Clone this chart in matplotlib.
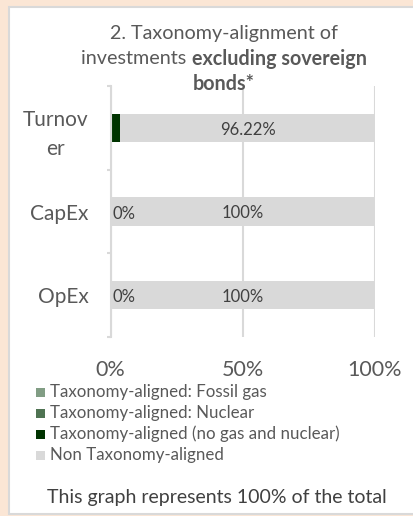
import matplotlib
matplotlib.use("Agg")
import matplotlib.pyplot as plt
from matplotlib.patches import Rectangle

# ---- data ----
categories = ["Turnov\ner", "CapEx", "OpEx"]
fossil_gas = [0.0, 0.0, 0.0]
nuclear = [0.0, 0.0, 0.0]
aligned_other = [3.78, 0.0, 0.0]
non_aligned = [96.22, 100.0, 100.0]
aligned_labels = ["", "0%", "0%"]
non_aligned_labels = ["96.22%", "100%", "100%"]
x_ticks = [0, 50, 100]
x_tick_labels = ["0%", "50%", "100%"]
legend_labels = ["Taxonomy-aligned: Fossil gas", "Taxonomy-aligned: Nuclear",
                 "Taxonomy-aligned (no gas and nuclear)", "Non Taxonomy-aligned"]
colors = ["#819d84", "#4f7352", "#003300", "#d9d9d9"]

W, H = 414, 516
plt.rcParams['font.family'] = ['Lato', 'DejaVu Sans']
fig = plt.figure(figsize=(W / 100, H / 100), dpi=100, facecolor="#fbe6d5")

def fx(px):
    return px / W

def fy(py):
    return 1 - py / H

# white panel
fig.patches.append(Rectangle((fx(9), fy(514)), fx(420) - fx(9), fy(7) - fy(514),
                             transform=fig.transFigure, facecolor="white",
                             edgecolor="#d9d9d9", linewidth=1.5, zorder=-10))

ax = fig.add_axes([fx(110.5), fy(337), fx(375) - fx(110.5), fy(86) - fy(337)])
ax.set_facecolor("none")
ax.set_zorder(1)
ypos = list(range(len(categories)))
bh = 0.34
left = [0.0] * len(categories)
series = [fossil_gas, nuclear, aligned_other, non_aligned]
for vals, c in zip(series, colors):
    ax.barh(ypos, vals, left=left, height=bh, color=c, zorder=2)
    left = [l + v for l, v in zip(left, vals)]

txtc = "#404040"
for i in ypos:
    a0 = fossil_gas[i] + nuclear[i]
    if aligned_labels[i]:
        ax.annotate(aligned_labels[i], (a0, i), xytext=(1.5, -1.5), textcoords="offset points",
                    ha="left", va="center", fontsize=12, color=txtc, zorder=3)
    start = a0 + aligned_other[i]
    ax.text(start + non_aligned[i] / 2, i + 0.02, non_aligned_labels[i], ha="center",
            va="center", fontsize=12, color=txtc, zorder=3)

ax.set_xlim(0, 100)
ax.set_ylim(2.5, -0.5)
ax.set_xticks(x_ticks)
ax.set_xticklabels(x_tick_labels, fontsize=15.5, color="#595959")
ax.tick_params(axis="x", length=0, pad=16.5)
ax.set_yticks(ypos)
ax.set_yticklabels(categories, fontsize=15, color="#595959", ha="right",
                   multialignment="center", linespacing=1.55)
ax.tick_params(axis="y", which="major", length=0, pad=16)
ax.set_yticks([-0.5, 0.5, 1.5, 2.5], minor=True)
ax.tick_params(axis="y", which="minor", length=3, width=1.5, color="#d9d9d9")
ax.grid(axis="x", color="#d9d9d9", linewidth=1.5, zorder=1)
ax.set_axisbelow(True)
for s in ["top", "right", "bottom"]:
    ax.spines[s].set_visible(False)
ax.spines["left"].set_color("#d9d9d9")
ax.spines["left"].set_linewidth(1.5)

# title with mixed weights
fig.canvas.draw()
renderer = fig.canvas.get_renderer()
title_lines = [
    [("2. Taxonomy-alignment of", "normal")],
    [("investments ", "normal"), ("excluding sovereign", "bold")],
    [("bonds*", "bold")],
]
title_y = [33, 59, 84]
tcx = 224
for segs, py in zip(title_lines, title_y):
    texts = []
    widths = []
    for s, w in segs:
        t = fig.text(0, fy(py), s, fontsize=14.2, fontweight=w, color="#595959",
                     va="center", ha="left")
        bb = t.get_window_extent(renderer)
        texts.append(t)
        widths.append(bb.width)
    total = sum(widths)
    x = tcx - total / 2
    for t, wd in zip(texts, widths):
        t.set_x(fx(x))
        x += wd

# legend
leg_y = [392, 413, 434, 455]
for lab, c, py in zip(legend_labels, colors, leg_y):
    fig.patches.append(Rectangle((fx(36), fy(py + 4.5)), fx(9), fy(0) - fy(9),
                                 transform=fig.transFigure, facecolor=c, edgecolor="none"))
    fig.text(fx(50), fy(py), lab, fontsize=12.2, color="#595959", va="center", ha="left")

fig.text(fx(217), fy(497), "This graph represents 100% of the total", fontsize=14,
         color="#404040", ha="center", va="center")

fig.savefig("out.png", dpi=100, facecolor=fig.get_facecolor())
